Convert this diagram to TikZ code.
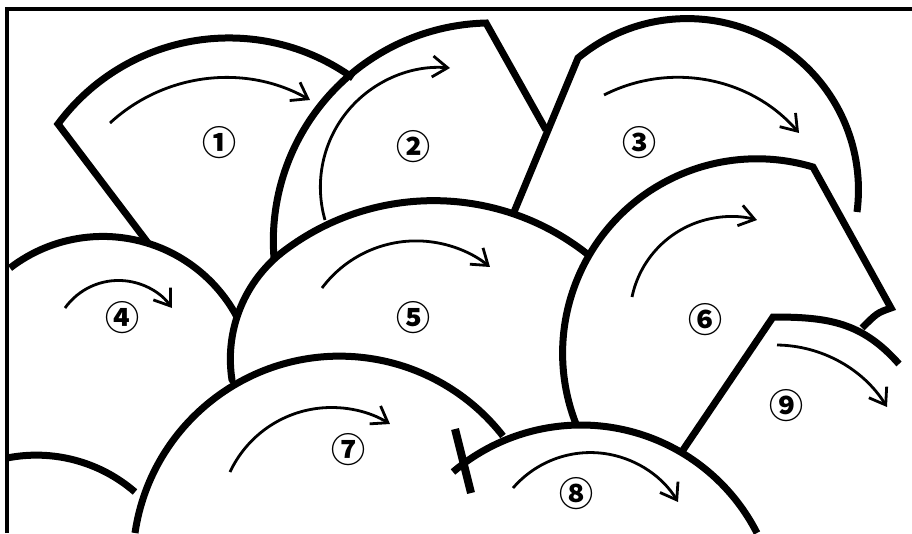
\documentclass[tikz,border=0pt]{standalone}
\usepackage{fontspec}
\newfontfamily\cjk{Noto Sans CJK JP}
\usetikzlibrary{arrows.meta}
\tikzset{
  edge/.style={line width=7pt},
  frameline/.style={line width=4pt},
  flow/.style={line width=2.8pt,-{Straight Barb[length=15pt,width=21pt]}},
  num/.style={font=\cjk\bfseries\fontsize{34}{34}\selectfont,inner sep=0pt}
}
% circle arc through three points (pixel coordinates)
\newcommand{\tparc}[6]{%
 \pgfmathsetmacro\tpAx{#1/100}\pgfmathsetmacro\tpAy{#2/100}%
 \pgfmathsetmacro\tpBx{#3/100}\pgfmathsetmacro\tpBy{#4/100}%
 \pgfmathsetmacro\tpCx{#5/100}\pgfmathsetmacro\tpCy{#6/100}%
 \pgfmathsetmacro\tpD{2*(\tpAx*(\tpBy-\tpCy)+\tpBx*(\tpCy-\tpAy)+\tpCx*(\tpAy-\tpBy))}%
 \pgfmathsetmacro\tpSA{\tpAx*\tpAx+\tpAy*\tpAy}%
 \pgfmathsetmacro\tpSB{\tpBx*\tpBx+\tpBy*\tpBy}%
 \pgfmathsetmacro\tpSC{\tpCx*\tpCx+\tpCy*\tpCy}%
 \pgfmathsetmacro\tpUx{(\tpSA*(\tpBy-\tpCy)+\tpSB*(\tpCy-\tpAy)+\tpSC*(\tpAy-\tpBy))/\tpD}%
 \pgfmathsetmacro\tpUy{(\tpSA*(\tpCx-\tpBx)+\tpSB*(\tpAx-\tpCx)+\tpSC*(\tpBx-\tpAx))/\tpD}%
 \pgfmathsetmacro\tpR{100*veclen(\tpAx-\tpUx,\tpAy-\tpUy)}%
 \pgfmathsetmacro\tpTA{atan2(\tpAy-\tpUy,\tpAx-\tpUx)}%
 \pgfmathsetmacro\tpTB{atan2(\tpBy-\tpUy,\tpBx-\tpUx)}%
 \pgfmathsetmacro\tpTC{atan2(\tpCy-\tpUy,\tpCx-\tpUx)}%
 \pgfmathsetmacro\tpDB{mod(\tpTB-\tpTA+720,360)}%
 \pgfmathsetmacro\tpDC{mod(\tpTC-\tpTA+720,360)}%
 \pgfmathsetmacro\tpE{\tpDB<\tpDC ? \tpTA+\tpDC : \tpTA-(360-\tpDC)}%
}
\begin{document}
\begin{tikzpicture}[x=1pt,y=-1pt]
\useasboundingbox (0,0) rectangle (912,533);
% frame
\draw[frameline] (7,533) -- (7,9) -- (912,9);
% shape 1
\tparc{58}{124}{233}{38}{353}{78}
\draw[edge] (148,243) -- (58,124) arc[start angle=\tpTA,end angle=\tpE,radius=\tpR];
% shape 2
\tparc{274}{258}{317}{110}{486}{23}
\draw[edge] (274,258) arc[start angle=\tpTA,end angle=\tpE,radius=\tpR] -- (546,130);
% shape 3
\tparc{578}{58}{756}{33}{857}{212}
\draw[edge] (514,212) -- (578,58) arc[start angle=\tpTA,end angle=\tpE,radius=\tpR];
% shape 4
\tparc{10}{268}{147}{243}{237}{317}
\draw[edge] (10,268) arc[start angle=\tpTA,end angle=\tpE,radius=\tpR];
% shape 5 (two arcs)
\tparc{232}{380}{238}{314}{280}{254}
\draw[edge,line cap=round] (232,380) arc[start angle=\tpTA,end angle=\tpE,radius=\tpR];
\tparc{280}{254}{420}{201}{586}{253}
\draw[edge,line cap=round] (280,254) arc[start angle=\tpTA,end angle=\tpE,radius=\tpR];
% shape 6
\tparc{576}{424}{605}{232}{813}{167}
\draw[edge] (576,424) arc[start angle=\tpTA,end angle=\tpE,radius=\tpR] -- (891,308) .. controls (877,313) .. (862,328);
% shape 9 top
\draw[edge] (681,453) -- (773,317) .. controls (828,317) and (862,322) .. (899,364);
% shape 7
\tparc{135}{533}{300}{360}{503}{436}
\draw[edge] (135,533) arc[start angle=\tpTA,end angle=\tpE,radius=\tpR];
% bottom-left piece
\tparc{7}{458}{60}{457}{135}{492}
\draw[edge] (7,458) arc[start angle=\tpTA,end angle=\tpE,radius=\tpR];
% cut mark
\draw[line width=8pt] (455,429) -- (471,493);
% shape 8
\tparc{453}{472}{580}{425}{757}{533}
\draw[edge] (453,472) arc[start angle=\tpTA,end angle=\tpE,radius=\tpR];
% flow arrows
\tparc{110}{123}{217}{78}{310}{100}
\draw[flow] (110,123) arc[start angle=\tpTA,end angle=\tpE,radius=\tpR];
\tparc{325}{220}{336}{128}{450}{68}
\draw[flow] (325,220) arc[start angle=\tpTA,end angle=\tpE,radius=\tpR];
\tparc{604}{95}{706}{80}{799}{133}
\draw[flow] (604,95) arc[start angle=\tpTA,end angle=\tpE,radius=\tpR];
\tparc{65}{308}{110}{281}{172}{308}
\draw[flow] (65,308) arc[start angle=\tpTA,end angle=\tpE,radius=\tpR];
\tparc{322}{288}{400}{242}{490}{267}
\draw[flow] (322,288) arc[start angle=\tpTA,end angle=\tpE,radius=\tpR];
\tparc{632}{297}{670}{237}{757}{220}
\draw[flow] (632,297) arc[start angle=\tpTA,end angle=\tpE,radius=\tpR];
\tparc{230}{472}{300}{412}{390}{424}
\draw[flow] (230,472) arc[start angle=\tpTA,end angle=\tpE,radius=\tpR];
\tparc{513}{488}{600}{453}{678}{502}
\draw[flow] (513,488) arc[start angle=\tpTA,end angle=\tpE,radius=\tpR];
\tparc{777}{345}{840}{362}{887}{407}
\draw[flow] (777,345) arc[start angle=\tpTA,end angle=\tpE,radius=\tpR];
% labels
\node[num] (l1) at (219,143) {①};
\node[num] (l2) at (413,147) {②};
\node[num] (l3) at (639,143) {③};
\node[num] (l4) at (122,318) {④};
\node[num] (l5) at (413,318) {⑤};
\node[num] (l6) at (705,320) {⑥};
\node[num] (l7) at (348,450) {⑦};
\node[num] (l8) at (576,494) {⑧};
\node[num] (l9) at (786,406) {⑨};
\end{tikzpicture}
\end{document}
